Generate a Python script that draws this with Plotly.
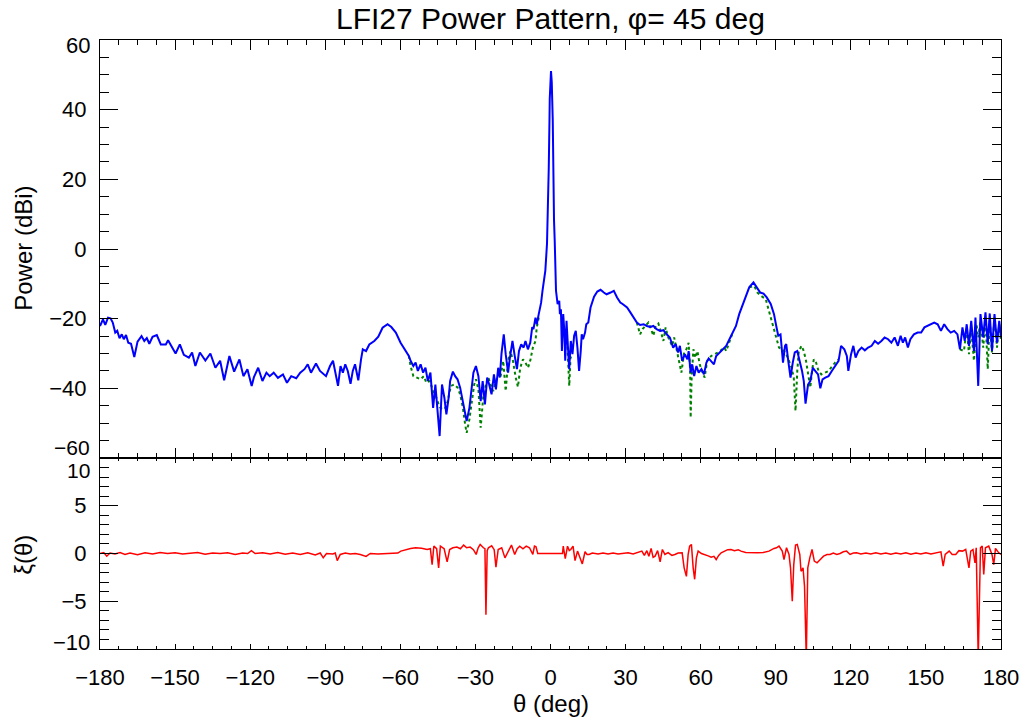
import plotly.graph_objects as go

# ---------------- data ----------------
theta_blue = [
    -180.0, -178.8, -177.9, -176.8, -175.8, -174.9, -173.9, -173.1, -172.2, -171.3,
    -170.5, -169.6, -168.7, -167.6, -166.3, -165.0, -163.4, -162.3, -161.3, -160.3,
    -159.0, -157.3, -155.7, -153.7, -152.8, -151.5, -149.8, -148.1, -146.5, -144.5,
    -143.2, -141.9, -140.1, -137.9, -135.9, -133.9, -132.0, -130.4, -128.3, -126.4,
    -124.3, -122.7, -121.1, -119.4, -118.5, -116.8, -115.1, -113.5, -112.2, -110.6,
    -108.9, -106.9, -105.3, -103.6, -101.6, -100.0, -98.3, -97.0, -95.7, -93.7,
    -92.1, -89.7, -88.1, -86.9, -86.0, -84.9, -83.9, -82.96, -82.0, -81.0,
    -79.9, -79.0, -78.1, -76.8, -75.7, -75.0, -73.7, -72.4, -70.4, -68.8,
    -67.1, -65.1, -63.6, -61.8, -59.9, -57.9, -56.6, -55.9, -54.8, -53.9,
    -53.0, -51.9, -50.9, -49.96, -49.0, -47.98, -46.9, -46.0, -45.07, -44.3,
    -43.35, -42.4, -41.6, -40.7, -40.1, -39.0, -38.1, -37.15, -36.1, -34.8,
    -33.5, -32.4, -31.5, -30.8, -29.8, -28.8, -27.9, -27.1, -26.2, -25.3,
    -24.5, -23.55, -22.6, -21.8, -20.9, -20.25, -19.6, -18.67, -17.9, -16.95,
    -16.3, -15.2, -14.3, -13.4, -12.6, -11.7, -10.75, -10.0, -9.03, -8.1,
    -7.3, -6.8, -6.0, -5.47, -4.7, -3.75, -3.2, -2.6, -2.06, -1.4,
    -1.1, -0.7, -0.4, -0.3, 0.2, 0.5, 0.9, 1.1, 1.4, 1.7,
    2.0, 2.2, 2.84, 3.5, 3.76, 4.16, 4.56, 5.08, 5.48, 5.88,
    6.4, 6.8, 7.46, 8.12, 8.78, 9.44, 10.1, 10.76, 11.42, 12.08,
    12.48, 13.0, 13.8, 14.3, 15.1, 16.0, 17.4, 18.7, 20.0, 21.3,
    22.4, 24.0, 25.3, 26.6, 27.9, 28.8, 30.6, 31.9, 33.2, 34.5,
    35.8, 37.2, 38.5, 39.8, 41.1, 42.4, 43.8, 45.1, 46.4, 47.7,
    49.0, 50.0, 51.0, 51.7, 52.6, 53.7, 54.7, 55.2, 56.0, 56.6,
    57.4, 58.3, 59.2, 60.3, 61.3, 62.3, 63.2, 64.2, 65.3, 66.2,
    67.5, 68.8, 70.2, 71.5, 72.8, 74.1, 75.4, 76.8, 78.1, 79.4,
    81.1, 82.4, 83.8, 85.1, 86.4, 88.0, 89.3, 90.2, 91.0, 91.9,
    92.9, 93.7, 94.2, 95.0, 95.9, 96.8, 97.6, 98.6, 99.5, 100.5,
    101.2, 101.9, 102.9, 103.8, 104.8, 105.8, 106.9, 107.8, 108.7, 109.8,
    111.1, 112.4, 113.7, 115.1, 116.1, 117.4, 118.4, 119.0, 120.1, 121.0,
    121.9, 123.0, 124.3, 125.6, 126.9, 128.3, 129.6, 130.9, 132.2, 133.5,
    134.9, 136.2, 137.5, 138.8, 139.9, 140.8, 141.7, 142.8, 143.8, 145.2,
    146.7, 148.1, 149.4, 150.7, 152.0, 153.3, 154.7, 156.0, 157.3, 158.6,
    159.9, 161.3, 162.6, 163.6, 164.6, 165.5, 166.3, 167.2, 168.1, 169.2,
    169.8, 170.9, 171.8, 172.9, 173.8, 174.7, 175.5, 176.4, 177.4, 178.4,
    179.3, 180.0,
]
power_blue = [
    -22.1, -20.2, -21.8, -19.7, -19.9, -21.1, -24.0, -23.5, -25.6, -24.5,
    -25.9, -24.7, -26.9, -27.2, -31.0, -26.6, -25.0, -26.4, -25.6, -27.2,
    -25.2, -24.7, -27.4, -27.4, -26.2, -27.8, -30.0, -27.4, -30.4, -31.2,
    -29.7, -33.6, -29.7, -32.0, -30.0, -34.1, -32.1, -37.7, -30.7, -35.2,
    -31.7, -36.5, -34.5, -39.3, -36.8, -34.1, -37.9, -35.5, -36.5, -35.5,
    -37.0, -36.0, -38.4, -36.5, -37.1, -35.5, -34.5, -33.1, -35.5, -32.9,
    -35.0, -36.5, -33.6, -32.1, -35.0, -39.3, -33.6, -35.5, -33.1, -35.0,
    -38.7, -35.0, -33.1, -37.7, -31.7, -28.8, -29.3, -27.4, -26.4, -25.2,
    -22.6, -21.6, -22.4, -24.0, -26.9, -29.3, -30.7, -32.1, -33.6, -32.6,
    -35.0, -33.1, -35.5, -34.1, -37.9, -35.5, -45.6, -38.9, -46.5, -53.7,
    -38.9, -42.7, -47.5, -42.7, -37.9, -35.2, -36.5, -37.4, -39.8, -44.1,
    -49.4, -45.6, -39.3, -35.5, -33.6, -36.5, -43.7, -37.9, -44.6, -36.9,
    -38.9, -41.7, -36.0, -40.3, -34.1, -36.9, -30.2, -24.5, -30.2, -35.5,
    -31.7, -26.4, -30.7, -34.5, -29.3, -27.4, -28.3, -26.4, -28.8, -26.9,
    -22.4, -23.0, -19.7, -21.6, -18.7, -15.4, -12.0, -9.0, -6.2, 1.5,
    8.1, 23.1, 37.5, 43.2, 51.1, 47.9, 37.0, 22.6, 8.5, 2.0,
    -6.2, -12.0, -15.8, -14.9, -18.7, -17.3, -29.3, -18.7, -23.0, -32.1,
    -20.6, -25.4, -34.5, -26.4, -30.2, -24.9, -23.5, -28.3, -35.0, -29.3,
    -24.5, -25.9, -24.0, -21.6, -21.1, -16.8, -13.7, -12.2, -11.7, -12.5,
    -13.0, -12.5, -12.0, -13.9, -15.35, -15.8, -16.8, -18.2, -19.7, -21.1,
    -21.8, -21.6, -22.1, -22.4, -22.1, -23.0, -23.5, -23.3, -24.5, -25.4,
    -28.3, -27.3, -29.7, -27.8, -32.1, -30.2, -31.7, -29.3, -35.5, -33.1,
    -36.5, -33.6, -35.5, -34.5, -36.0, -32.6, -31.4, -32.1, -33.1, -30.7,
    -29.7, -28.8, -27.8, -25.9, -24.0, -22.1, -18.7, -15.8, -13.4, -11.0,
    -9.6, -11.0, -12.5, -12.8, -13.9, -15.8, -18.7, -22.1, -24.9, -24.5,
    -32.6, -27.8, -27.3, -32.1, -36.9, -32.6, -29.7, -29.3, -31.7, -35.0,
    -37.9, -44.4, -38.9, -37.9, -34.1, -35.0, -36.0, -40.0, -37.4, -36.9,
    -36.5, -35.0, -33.6, -32.1, -27.8, -28.8, -30.7, -35.0, -30.2, -27.8,
    -31.2, -29.3, -28.3, -29.1, -28.3, -27.8, -26.4, -27.2, -26.4, -25.4,
    -25.9, -26.9, -25.4, -27.8, -24.9, -26.9, -25.4, -28.3, -25.9, -24.5,
    -24.0, -24.0, -22.5, -22.1, -21.6, -21.1, -21.6, -23.5, -21.6, -23.0,
    -24.0, -23.5, -24.5, -28.8, -22.5, -26.4, -21.6, -27.8, -20.6, -29.3,
    -19.7, -39.3, -18.7, -25.4, -18.2, -27.3, -18.5, -29.3, -18.7, -26.9,
    -20.6, -25.4,
]

# green (dotted) pattern: drawn where it departs from the blue one (None = gap)
theta_green = [
    -56.6, -55.9, -54.8, -53.5, -51.9, -50.6, -49.6, -48.2, -46.9, -45.6,
    -44.3, -43.0, -42.0, -41.1, -39.8, -38.5, -37.1, -36.1, -35.0, -34.1,
    -33.5, -32.4, -31.5, -30.5, -29.8, -28.8, -27.9, -26.9, -25.8, -24.9,
    -23.9, -22.9, -21.8, -20.9, -20.0, -18.9, -17.9, -16.95, -16.0, -15.0,
    -13.9, -13.0, -12.1, -11.0, -10.0, -9.0, -8.1, -7.05, -6.0, -5.5, -4.7,
    None,
    5.9, 6.4, 6.9, 7.5, 8.0, 8.8,
    None,
    34.5, 35.8, 36.8, 37.8, 39.1, 40.2, 41.1, 42.0, 43.1, 44.2,
    45.1, 46.0, 46.8, 47.7, 48.6, 49.4, 50.4, 51.3, 52.3, 53.4,
    54.3, 55.2, 55.8, 56.0, 56.4, 57.1, 57.9, 58.7, 59.6, 60.5,
    61.6, 62.6, 64.2, 66.9, 69.5, 70.2, 71.5, 72.8,
    None,
    79.4, 81.4, 82.7, 84.0, 86.0, 87.3, 88.6, 90.0, 91.3, 92.6,
    93.9, 95.3, 96.3, 97.2, 97.9, 98.6, 99.2, 100.3, 101.2, 102.1,
    102.9, 103.8, 104.5, 105.2, 106.1, 107.1, 108.2, 109.5, 111.1, 113.7, 115.1,
    None,
    163.6, 165.2, 166.3, 167.2, 168.1, 169.2, 170.2, 170.9, 171.8, 172.9,
    173.8, 174.7, 175.5, 176.4, 177.4, 178.4, 179.3, 180.0,
]
power_green = [
    -30.7, -33.6, -36.5, -36.9, -37.4, -36.5, -38.4, -37.9, -40.8, -42.7,
    -45.4, -46.1, -45.6, -43.7, -39.3, -38.9, -39.8, -41.7, -45.6, -50.4,
    -52.8, -48.9, -43.7, -38.9, -37.4, -40.3, -51.3, -42.7, -38.9, -36.8,
    -38.9, -40.8, -37.9, -36.0, -36.9, -32.1, -40.8, -32.1, -29.3, -32.1,
    -36.9, -39.6, -34.1, -31.7, -32.6, -34.1, -32.1, -28.3, -26.4, -22.6, -19.7,
    None,
    -24.0, -23.5, -30.2, -39.3, -31.2, -30.2,
    None,
    -21.1, -24.5, -23.0, -22.1, -21.1, -23.0, -24.9, -22.1, -21.4, -24.0,
    -26.4, -22.5, -24.9, -26.4, -27.8, -25.4, -28.8, -31.2, -35.5, -29.7,
    -28.8, -26.9, -35.0, -48.4, -36.9, -28.8, -31.2, -29.3, -33.1, -35.0,
    -36.9, -32.1, -30.7, -29.7, -28.3, -29.3, -26.4, -24.0,
    None,
    -11.0, -10.6, -12.5, -13.4, -14.4, -17.8, -20.6, -24.5, -28.3, -28.8,
    -29.7, -32.1, -34.1, -36.9, -46.5, -35.0, -29.3, -27.8, -29.3, -32.1,
    -36.0, -39.8, -35.0, -31.7, -32.6, -35.0, -36.0, -35.5, -35.0, -32.6, -31.7,
    None,
    -28.8, -29.3, -22.5, -30.2, -23.0, -32.1, -21.6, -25.4, -20.6, -28.3,
    -19.7, -34.5, -20.6, -29.7, -19.7, -28.3, -21.6, -26.4,
]

theta_xi = [
    -180.0, -178.5, -177.3, -176.0, -174.0, -172.0, -170.0, -168.0, -165.0, -162.0,
    -159.0, -156.0, -153.0, -150.0, -147.0, -144.0, -141.0, -138.0, -135.0, -132.0,
    -129.0, -126.0, -123.0, -121.0, -119.5, -118.0, -115.0, -112.0, -109.0, -106.0,
    -103.0, -100.0, -97.0, -94.0, -92.0, -90.8, -89.5, -87.0, -86.0, -85.2,
    -84.0, -82.0, -80.0, -78.0, -76.0, -73.7, -72.0, -69.0, -66.0, -63.0,
    -61.0, -59.8, -57.5, -55.9, -53.9, -51.5, -49.3, -48.0, -47.3, -46.6,
    -45.5, -44.7, -44.0, -42.5, -41.3, -40.3, -39.0, -37.4, -36.0, -34.7,
    -33.5, -32.1, -30.8, -29.7, -28.9, -28.1, -26.8, -26.2, -25.8, -25.3,
    -24.8, -23.5, -22.5, -21.8, -20.9, -19.5, -18.2, -16.9, -15.6, -14.3,
    -13.3, -12.3, -11.0, -9.7, -8.4, -7.06, -6.4, -5.8, -5.1, 4.8,
    5.1, 5.9, 6.8, 7.5, 8.1, 9.0, 9.8, 10.8, 11.7, 12.7,
    13.8, 14.6, 15.4, 16.7, 19.0, 21.0, 23.0, 25.0, 27.0, 29.0,
    31.0, 33.0, 35.0, 36.5, 37.5, 38.5, 39.3, 40.2, 41.0, 41.8,
    42.8, 43.8, 44.7, 45.7, 47.0, 48.5, 49.7, 51.0, 52.6, 53.4,
    54.3, 55.0, 55.6, 56.3, 57.0, 57.6, 58.3, 59.0, 60.3, 61.6,
    63.0, 64.2, 65.3, 66.2, 67.2, 68.2, 69.5, 70.8, 72.1, 73.5,
    75.0, 76.1, 78.0, 80.1, 82.7, 85.0, 87.3, 89.3, 90.3, 91.3,
    92.6, 93.3, 94.3, 95.3, 95.9, 96.6, 97.2, 97.9, 98.6, 99.6,
    100.1, 100.9, 101.5, 102.2, 102.8, 103.6, 104.5, 105.4, 106.5, 107.8,
    109.1, 110.5, 111.7, 113.0, 114.4, 115.7, 117.0, 118.3, 119.7, 121.0,
    122.3, 124.0, 126.0, 128.0, 130.0, 132.0, 134.0, 136.0, 138.0, 140.0,
    142.0, 144.0, 146.0, 148.0, 150.0, 152.0, 154.0, 156.0, 156.9, 157.7,
    159.3, 160.5, 161.9, 163.2, 164.6, 165.9, 167.2, 167.9, 168.8, 169.6,
    170.1, 170.9, 171.8, 172.5, 173.1, 173.8, 175.1, 176.4, 177.1, 177.8,
    179.1, 180.0,
]
xi_values = [
    0.0, 0.1, -0.28, 0.05, -0.05, 0.1, -0.1, 0.05, -0.12, 0.08,
    -0.05, 0.1, 0.0, 0.08, -0.06, 0.05, 0.1, -0.08, 0.05, 0.0,
    0.08, -0.1, 0.05, 0.0, 0.3, 0.0, 0.08, -0.05, 0.1, -0.08,
    0.05, -0.1, 0.08, -0.15, 0.05, -0.45, 0.0, -0.05, 0.05, -0.74,
    -0.1, 0.05, -0.05, 0.0, -0.1, -0.3, 0.0, -0.05, 0.0, 0.0,
    0.05, 0.25, 0.45, 0.53, 0.6, 0.55, 0.42, 0.5, -1.16, 0.77,
    0.5, -1.5, 0.77, 0.5, -0.88, 0.42, 0.6, 0.67, 0.5, 0.88,
    0.6, 0.67, 0.4, -0.1, 0.6, 0.95, 0.6, 0.5, -6.4, 0.3,
    0.6, 0.8, 0.4, -1.44, 0.42, 0.6, -0.46, 0.25, 0.88, -0.1,
    0.5, 0.77, 0.5, 0.77, 0.6, -0.1, 0.77, 0.7, 0.0, 0.0,
    0.77, -0.53, 0.77, 0.3, 0.42, 0.77, -0.74, 0.25, -0.46, -1.09,
    0.18, -0.1, -0.1, 0.05, -0.05, 0.05, -0.05, 0.05, -0.05, 0.0,
    0.08, -0.05, 0.1, 0.25, -0.2, 0.3, -0.3, 0.53, -0.4, -0.28,
    0.3, -0.88, 0.42, -0.1, 0.1, -0.2, -0.1, 0.05, 0.07, -1.5,
    -2.4, -0.1, 0.77, 0.95, -1.5, -2.7, -0.46, 0.25, 0.0, -0.1,
    -0.25, -0.39, -0.3, -0.63, -0.2, 0.07, 0.25, 0.4, 0.42, 0.3,
    0.4, 0.25, 0.1, 0.07, 0.07, 0.1, 0.25, 0.53, 0.6, 0.77,
    0.25, -0.63, 0.6, -0.1, -1.5, -5.0, -1.16, 0.88, 0.95, -0.1,
    -1.86, -1.5, -3.44, -11.0, -1.5, -0.46, 0.42, -0.8, -0.98, -0.63,
    -0.28, -0.1, -0.1, 0.05, -0.1, 0.0, 0.18, 0.25, -0.1, 0.05,
    0.07, -0.05, 0.05, -0.05, 0.08, -0.05, 0.05, -0.08, 0.05, -0.05,
    0.08, -0.08, 0.05, -0.05, 0.08, -0.05, 0.05, 0.18, -1.33, -0.1,
    0.25, -0.1, -0.1, 0.3, 0.25, 0.42, -1.5, 0.25, 0.42, -0.98,
    0.6, -11.0, 0.6, 0.77, -2.2, 0.6, 0.77, -0.1, -1.16, 0.53,
    0.07, -0.1,
]

x_ticks = [-180, -150, -120, -90, -60, -30, 0, 30, 60, 90, 120, 150, 180]
power_ticks = [-60, -40, -20, 0, 20, 40, 60]
xi_ticks = [-10, -5, 0, 5, 10]

FONT = "Liberation Sans, Arial, sans-serif"
TICK_SIZE = 22

fig = go.Figure()
fig.add_trace(go.Scatter(x=theta_green, y=power_green, mode="lines",
                         line=dict(color="#008000", width=2, dash="dot"),
                         xaxis="x2", yaxis="y", connectgaps=False, showlegend=False))
fig.add_trace(go.Scatter(x=theta_blue, y=power_blue, mode="lines",
                         line=dict(color="#0000ff", width=2),
                         xaxis="x2", yaxis="y", showlegend=False))
fig.add_trace(go.Scatter(x=theta_xi, y=xi_values, mode="lines",
                         line=dict(color="#ff0000", width=1.5),
                         xaxis="x", yaxis="y2", showlegend=False))

# plot area in pixels: x 100..1010, y 40..649
L, R, T, B = 100, 1010, 40, 649
W, H = R - L, B - T
split = (B - 458) / H

def px(xp):
    return (xp - L) / W

def py(yp):
    return (B - yp) / H

common = dict(showline=True, linecolor="black", linewidth=1.2, mirror="allticks",
              ticks="inside", tickcolor="black", tickwidth=1, showgrid=False,
              zeroline=False, tickfont=dict(family=FONT, size=TICK_SIZE, color="black"))

# inner tick labels drawn by the axes; the end labels of the two stacked
# panels are nudged inwards (as in the reference) so they do not collide
edge_labels = [(power_ticks[-1], 46, 22), (power_ticks[0], 447, 21),
                (xi_ticks[-1], 470, 21), (xi_ticks[0], 642, 22)]

annotations = [
    dict(text="LFI27 Power Pattern, φ= 45 deg", x=0.5, y=py(18), xref="paper", yref="paper",
         xanchor="center", yanchor="middle", showarrow=False,
         font=dict(family=FONT, size=30, color="black")),
    dict(text="Power (dBi)", x=px(22), y=py(248), xref="paper", yref="paper",
         xanchor="center", yanchor="middle", showarrow=False, textangle=-90,
         font=dict(family=FONT, size=24, color="black")),
    dict(text="ξ(θ)", x=px(22), y=py(555), xref="paper", yref="paper",
         xanchor="center", yanchor="middle", showarrow=False, textangle=-90,
         font=dict(family=FONT, size=24, color="black")),
    dict(text="θ (deg)", x=0.5, y=py(703), xref="paper", yref="paper",
         xanchor="center", yanchor="middle", showarrow=False,
         font=dict(family=FONT, size=24, color="black")),
]
for val, ypix, fsize in edge_labels:
    txt = str(val).replace("-", "−")
    annotations.append(dict(text=txt, x=px(92), y=py(ypix), xref="paper", yref="paper",
                            xanchor="right", yanchor="middle", showarrow=False,
                            font=dict(family=FONT, size=fsize, color="black")))

fig.update_layout(
    width=1031, height=719,
    margin=dict(l=L, r=1031 - R, t=T, b=719 - B),
    paper_bgcolor="white", plot_bgcolor="white",
    font=dict(family=FONT, color="black"),
    xaxis=dict(common, range=[-180, 180], tickvals=x_ticks, ticklen=5,
               minor=dict(dtick=7.5, tick0=-180, ticklen=3, ticks="inside", tickcolor="black"),
               anchor="y2", domain=[0, 1], ticklabelstandoff=8),
    xaxis2=dict(common, range=[-180, 180], tickvals=x_ticks, ticklen=10,
                minor=dict(dtick=7.5, tick0=-180, ticklen=5, ticks="inside", tickcolor="black"),
                anchor="y", matches="x", showticklabels=False, domain=[0, 1]),
    yaxis=dict(common, range=[-60, 60], tickvals=power_ticks[1:-1], ticklen=18,
               minor=dict(dtick=5, tick0=0, ticklen=9, ticks="inside", tickcolor="black"),
               domain=[split, 1], anchor="x2", ticklabelstandoff=8),
    yaxis2=dict(common, range=[-10, 10], tickvals=xi_ticks[1:-1], ticklen=18,
                minor=dict(dtick=1, tick0=0, ticklen=9, ticks="inside", tickcolor="black"),
                domain=[0, split], anchor="x", ticklabelstandoff=8),
    annotations=annotations,
)

fig.write_html("out.html")
